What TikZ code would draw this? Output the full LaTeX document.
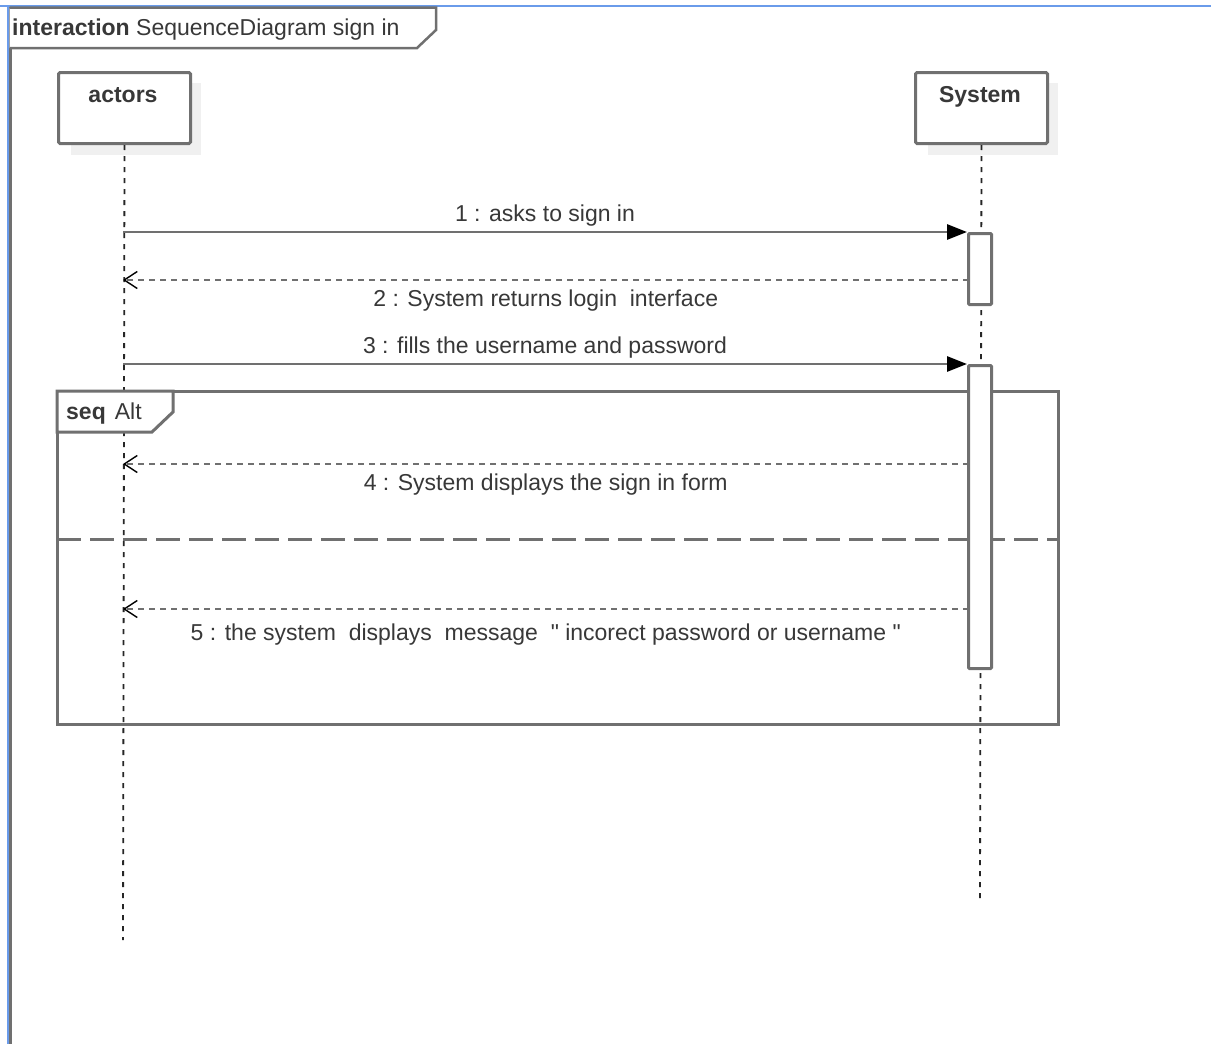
\documentclass[tikz,border=0pt]{standalone}
\usepackage{fontspec}
\setmainfont{Liberation Sans}[Ligatures=TeXOff]
\usetikzlibrary{arrows.meta}
\definecolor{linegray}{HTML}{707070}
\definecolor{txtgray}{HTML}{383838}
\definecolor{shade}{HTML}{F0F0F0}
\definecolor{selblue}{HTML}{6A9BEA}
\begin{document}
\begin{tikzpicture}[x=1pt,y=-1pt,
  font=\fontsize{23}{27}\selectfont, text=txtgray,
  headbox/.style={draw=linegray, line width=3pt, fill=white, rounded corners=1.5pt,
    minimum width=132pt, minimum height=71pt, anchor=north west, inner sep=0pt},
  headshadow/.style={fill=shade, minimum width=130pt, minimum height=72pt,
    anchor=north west, inner sep=0pt},
  headname/.style={font=\fontsize{23}{27}\selectfont\bfseries, anchor=base},
  lifeline/.style={draw=black!85, line width=1.8pt, dash pattern=on 5pt off 6pt},
  actbox/.style={draw=linegray, line width=3pt, fill=white, rounded corners=1pt,
    minimum width=23pt, anchor=north, inner sep=0pt},
  callmsg/.style={draw=linegray, line width=2.8pt,
    -{Triangle[length=20pt,width=15pt,fill=black,color=black]}},
  replymsg/.style={draw=linegray, line width=2.8pt, dash pattern=on 6pt off 5pt,
    -{Straight Barb[length=13pt,width=17pt,color=black,line width=1.4pt]}},
  msglabel/.style={pos=0.5, anchor=base, inner sep=0pt},
  framebox/.style={draw=linegray, line width=3pt},
  tabshape/.style={draw=linegray, line width=3pt, fill=white},
]
\useasboundingbox (0,0) rectangle (1211,1044);
\fill[white] (0,0) rectangle (1211,1044);

% outer interaction frame
\draw[linegray, line width=2.5pt] (10.5,6) -- (10.5,1044);
\draw[selblue, line width=2.5pt] (0,6) -- (1211,6);
\draw[selblue, line width=2.5pt] (8,6) -- (8,1044);
\draw[tabshape, line width=2.5pt] (9.5,7.5) -- (436,7.5) -- (436,30) -- (417,48) -- (9.5,48);
\node[anchor=base west, inner sep=0pt] (title) at (12,35)
  {\textbf{interaction} SequenceDiagram sign in};

% lifeline heads with their shadows
\node[headshadow] (actorsShadow) at (71,83) {};
\node[headshadow] (systemShadow) at (928,83) {};
\node[headbox] (actors) at (57,71) {};
\node[headbox] (system) at (914,71) {};
\node[headname] (actorsName) at (123,102) {actors};
\node[headname] (systemName) at (980,102) {System};

% lifelines
\coordinate (actorsEnd) at (123,940);
\coordinate (systemEnd) at (980,898);
\draw[lifeline] (actors.south) -- (actorsEnd);
\draw[lifeline] (system.south) -- (systemEnd);

% alt combined fragment
\draw[framebox] (57,391) rectangle (1058,724);
\draw[tabshape] (57,391) -- (173,391) -- (173,412) -- (152,432) -- (57,432) -- cycle;
\node[anchor=base west, inner sep=0pt] (altTag) at (66,419)
  {\textbf{seq}\hspace{9pt}Alt};
\draw[draw=linegray, line width=3pt, dash pattern=on 24pt off 9pt] (57,539) -- (1058,539);

% activation bars
\node[actbox, minimum height=71pt] (act1) at (980,232) {};
\node[actbox, minimum height=303pt] (act2) at (980,364) {};

% message end points on the lifelines
\coordinate (a1) at (123,232);
\coordinate (a2) at (123,280);
\coordinate (s2) at (968.5,280);
\coordinate (a3) at (123,364);
\coordinate (a4) at (123,464);
\coordinate (s4) at (968.5,464);
\coordinate (a5) at (123,609);
\coordinate (s5) at (968.5,609);

% messages
\draw[callmsg] (a1) -- (act1.north west)
  node[msglabel, yshift=11pt] {1 : asks to sign in};
\draw[replymsg] (s2) -- (a2)
  node[msglabel, yshift=-26pt] {2 : System returns login\ \ interface};
\draw[callmsg] (a3) -- (act2.north west)
  node[msglabel, yshift=11pt] {3 : fills the username and password};
\draw[replymsg] (s4) -- (a4)
  node[msglabel, yshift=-26pt] {4 : System displays the sign in form};
\draw[replymsg] (s5) -- (a5)
  node[msglabel, yshift=-31pt] {5 : the system\ \ displays\ \ message\ \ " incorect password or username "};
\end{tikzpicture}
\end{document}
